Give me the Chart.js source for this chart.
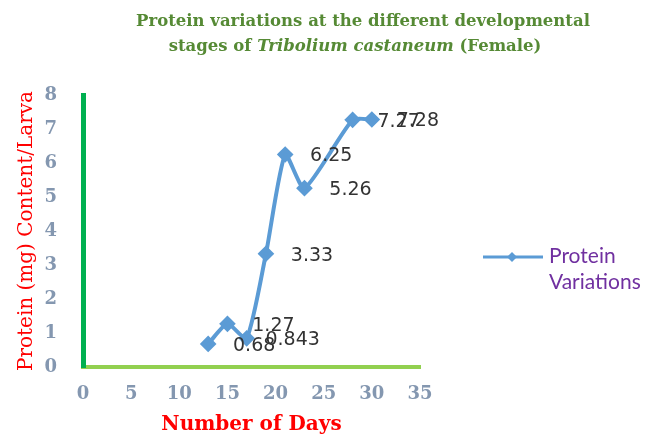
<!DOCTYPE html>
<html>
<head>
<meta charset="utf-8">
<script src="https://cdn.jsdelivr.net/npm/chart.js@4.4.1/dist/chart.umd.min.js"></script>
<style>
  html, body { margin: 0; padding: 0; background: #fff; }
  #wrap { width: 659px; height: 437px; }
</style>
</head>
<body>
<div id="wrap"><canvas id="myChart" width="659" height="437"></canvas></div>
<script>
// data
let days = [13, 15, 17, 19, 21, 23, 28, 30];
let protein = [0.68, 1.27, 0.843, 3.33, 6.25, 5.26, 7.27, 7.28];
let yTicks = [0, 1, 2, 3, 4, 5, 6, 7, 8];
let xTicks = [0, 5, 10, 15, 20, 25, 30, 35];
let seriesName = ['Protein', 'Variations'];

const blue = '#5b9bd5';
const tickFont = { family: 'DejaVu Serif', size: 18, weight: 'bold' };

// title with italic species name
const titlePlugin = {
  id: 'titlePlugin',
  afterDraw(chart) {
    const ctx = chart.ctx;
    const f = '16.5px "DejaVu Serif"';
    ctx.save();
    ctx.fillStyle = '#568a35';
    ctx.textBaseline = 'middle';
    ctx.textAlign = 'center';
    ctx.font = 'bold ' + f;
    ctx.fillText('Protein variations at the different developmental', 363, 22);
    let parts = [
      ['stages of ', 'bold ' + f],
      ['Tribolium castaneum', 'italic bold ' + f],
      [' (Female)', 'bold ' + f]
    ];
    let total = 0;
    parts.forEach(p => { ctx.font = p[1]; total += ctx.measureText(p[0]).width; });
    let x = 355 - total / 2;
    ctx.textAlign = 'left';
    parts.forEach(p => {
      ctx.font = p[1];
      ctx.fillText(p[0], x, 47);
      x += ctx.measureText(p[0]).width;
    });
    ctx.restore();
  }
};

// value labels to the right of each point
const valueLabels = {
  id: 'valueLabels',
  afterDatasetsDraw(chart) {
    const ctx = chart.ctx;
    const meta = chart.getDatasetMeta(0);
    ctx.save();
    ctx.font = '19px "DejaVu Sans"';
    ctx.fillStyle = '#333333';
    ctx.textAlign = 'center';
    ctx.textBaseline = 'middle';
    meta.data.forEach((pt, i) => {
      ctx.fillText(String(protein[i]), pt.x + 46, pt.y + 2);
    });
    ctx.restore();
  }
};

// legend on the right, two-line label
const sideLegend = {
  id: 'sideLegend',
  afterDraw(chart) {
    const ctx = chart.ctx;
    ctx.save();
    ctx.strokeStyle = blue;
    ctx.lineWidth = 3;
    ctx.beginPath();
    ctx.moveTo(483, 257);
    ctx.lineTo(543, 257);
    ctx.stroke();
    ctx.fillStyle = blue;
    ctx.beginPath();
    ctx.moveTo(512, 252);
    ctx.lineTo(517, 257);
    ctx.lineTo(512, 262);
    ctx.lineTo(507, 257);
    ctx.closePath();
    ctx.fill();
    ctx.fillStyle = '#7030a0';
    ctx.font = '21px Lato';
    ctx.textBaseline = 'middle';
    ctx.fillText(seriesName[0], 549, 256);
    ctx.fillText(seriesName[1], 549, 282);
    ctx.restore();
  }
};

var ctx = document.getElementById('myChart').getContext('2d');
var chart = new Chart(ctx, {
  type: 'line',
  data: {
    datasets: [{
      label: seriesName.join(' '),
      data: days.map((d, i) => ({ x: d, y: protein[i] })),
      borderColor: blue,
      backgroundColor: blue,
      borderWidth: 4,
      tension: 0.2,
      pointStyle: 'rectRot',
      pointRadius: 5.5,
      pointHoverRadius: 5.5,
      pointBackgroundColor: blue,
      pointBorderColor: blue
    }]
  },
  options: {
    responsive: false,
    animation: false,
    layout: { padding: { top: 95, right: 239, bottom: 0, left: 0 } },
    plugins: {
      legend: { display: false },
      tooltip: { enabled: false }
    },
    scales: {
      x: {
        type: 'linear',
        min: 0,
        max: 35,
        afterFit(scale) { scale.height = 70; },
        afterBuildTicks(scale) { scale.ticks = xTicks.map(v => ({ value: v })); },
        grid: { display: true, drawOnChartArea: false, drawTicks: false, color: 'rgba(0,0,0,0)' },
        border: { display: true, color: '#92d050', width: 4 },
        ticks: { color: '#8497b0', font: tickFont, padding: 17, maxRotation: 0 },
        title: {
          display: true,
          text: 'Number of Days',
          color: '#ff0000',
          font: { family: 'DejaVu Serif', size: 20, weight: 'bold' },
          padding: { top: 0, bottom: 0 }
        }
      },
      y: {
        min: 0,
        max: 8,
        afterFit(scale) { scale.width = 83; },
        afterBuildTicks(scale) { scale.ticks = yTicks.map(v => ({ value: v })); },
        grid: { display: true, drawOnChartArea: false, drawTicks: false, color: 'rgba(0,0,0,0)' },
        border: { display: true, color: '#00b050', width: 5 },
        ticks: { color: '#8497b0', font: tickFont, padding: 26 },
        title: {
          display: true,
          text: 'Protein (mg) Content/Larva',
          color: '#ff0000',
          font: { family: 'DejaVu Serif', size: 20 },
          padding: { top: 15, bottom: 0 }
        }
      }
    }
  },
  plugins: [titlePlugin, valueLabels, sideLegend]
});
</script>
</body>
</html>
